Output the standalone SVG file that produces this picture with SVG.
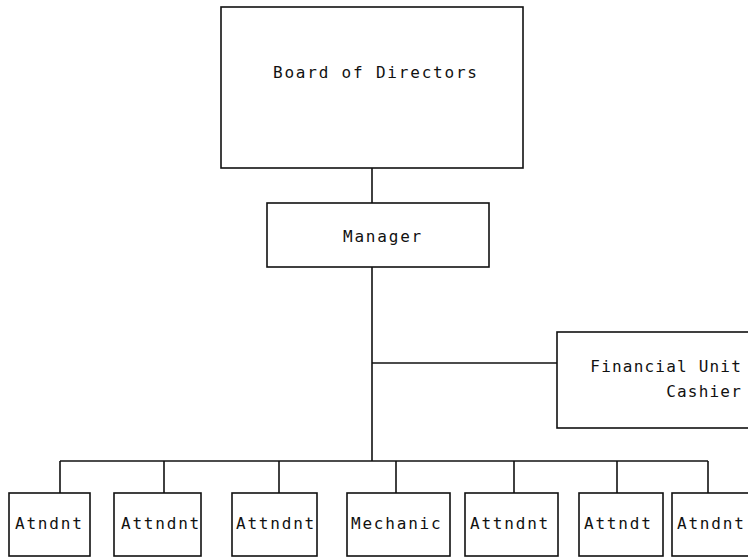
<svg xmlns="http://www.w3.org/2000/svg" width="748" height="558" viewBox="0 0 748 558">
  <style>
    .box { fill: #ffffff; stroke: #111111; stroke-width: 1.6; }
    .wire { fill: none; stroke: #111111; stroke-width: 1.6; }
    .lbl { font-family: "DejaVu Sans Mono", "Liberation Mono", monospace; font-size: 16px; letter-spacing: 1.8px; fill: #111111; }
    .tight { letter-spacing: 1.2px; }
  </style>
  <rect width="748" height="558" fill="#ffffff"/>

  <!-- connectors -->
  <g id="connectors">
    <line class="wire" x1="372" y1="168" x2="372" y2="203"/>
    <line class="wire" x1="372" y1="267" x2="372" y2="461"/>
    <line class="wire" x1="372" y1="363" x2="557" y2="363"/>
    <line class="wire" x1="60" y1="461" x2="708" y2="461"/>
    <line class="wire" x1="60" y1="461" x2="60" y2="493"/>
    <line class="wire" x1="164" y1="461" x2="164" y2="493"/>
    <line class="wire" x1="279" y1="461" x2="279" y2="493"/>
    <line class="wire" x1="396" y1="461" x2="396" y2="493"/>
    <line class="wire" x1="514" y1="461" x2="514" y2="493"/>
    <line class="wire" x1="617" y1="461" x2="617" y2="493"/>
    <line class="wire" x1="708" y1="461" x2="708" y2="493"/>
  </g>

  <g id="board">
    <rect class="box" x="221" y="7" width="302" height="161"/>
    <text class="lbl" x="273" y="78">Board of Directors</text>
  </g>

  <g id="manager">
    <rect class="box" x="267" y="203" width="222" height="64"/>
    <text class="lbl" x="343" y="242">Manager</text>
  </g>

  <g id="financial">
    <rect class="box" x="557" y="332" width="200" height="96"/>
    <text class="lbl tight" x="742" y="372" text-anchor="end">Financial Unit</text>
    <text class="lbl tight" x="742" y="397" text-anchor="end">Cashier</text>
  </g>

  <g id="staff1">
    <rect class="box" x="9" y="493" width="81" height="63"/>
    <text class="lbl" x="15" y="529">Atndnt</text>
  </g>
  <g id="staff2">
    <rect class="box" x="114" y="493" width="87" height="63"/>
    <text class="lbl" x="121" y="529">Attndnt</text>
  </g>
  <g id="staff3">
    <rect class="box" x="232" y="493" width="85" height="63"/>
    <text class="lbl" x="236" y="529">Attndnt</text>
  </g>
  <g id="mechanic">
    <rect class="box" x="347" y="493" width="103" height="63"/>
    <text class="lbl" x="351" y="529">Mechanic</text>
  </g>
  <g id="staff5">
    <rect class="box" x="465" y="493" width="93" height="63"/>
    <text class="lbl" x="470" y="529">Attndnt</text>
  </g>
  <g id="staff6">
    <rect class="box" x="579" y="493" width="84" height="63"/>
    <text class="lbl" x="584" y="529">Attndt</text>
  </g>
  <g id="staff7">
    <rect class="box" x="672" y="493" width="90" height="63"/>
    <text class="lbl" x="677" y="529">Atndnt</text>
  </g>
</svg>
